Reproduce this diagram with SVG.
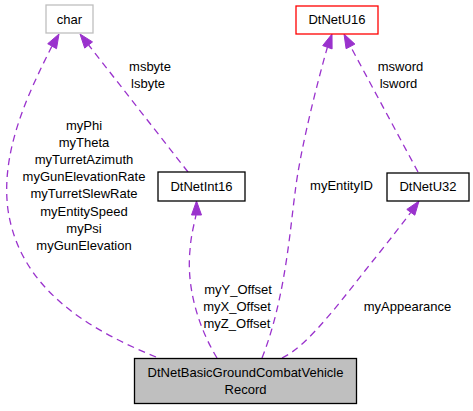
<svg xmlns="http://www.w3.org/2000/svg" width="473" height="411" viewBox="0 0 473 411">
<style>
text{font-family:"Liberation Sans",Arial,sans-serif;font-size:13px;fill:#000}
.n{text-anchor:middle}
.box{fill:#fff;stroke:#000;stroke-width:1.3}
.e{fill:none;stroke:#9a32cd;stroke-width:1.3;stroke-dasharray:7,5}
.ah{fill:#9a32cd;stroke:#9a32cd;stroke-width:1}
</style>
<rect width="473" height="411" fill="#fff"/>
<g id="connectors">
  <path class="e" d="M156,357 C90,330 20,290 8,210 C0,150 30,90 52,46"/>
  <polygon class="ah" points="59,34 47.7,43.7 56.5,48.7"/>
  <path class="e" d="M188,172 L88.6,45"/>
  <polygon class="ah" points="80,34 84.7,48.1 92.5,41.9"/>
  <path class="e" d="M217,358 C200,330 186,290 190,250 C191,235 194,225 196,215"/>
  <polygon class="ah" points="196.5,201 191.5,215 201.5,215"/>
  <path class="e" d="M262,358 C285,300 290,230 295,193 C300,150 318,80 327.4,47.2"/>
  <polygon class="ah" points="332,34 322.7,45.6 332.1,48.9"/>
  <path class="e" d="M418,172 L350.5,46.4"/>
  <polygon class="ah" points="344,34 346.1,48.7 354.9,44.1"/>
  <path class="e" d="M282,358 C310,345 345,295 380,252 C392,237 402,224 410.8,212.3"/>
  <polygon class="ah" points="419,201 406.8,209.4 414.8,215.2"/>
  <g id="edge-labels">
    <text class="n" x="84" y="129.5">myPhi</text>
    <text class="n" x="84" y="146.7">myTheta</text>
    <text class="n" x="84" y="163.9">myTurretAzimuth</text>
    <text class="n" x="84" y="181.1">myGunElevationRate</text>
    <text class="n" x="84" y="198.3">myTurretSlewRate</text>
    <text class="n" x="84" y="215.5">myEntitySpeed</text>
    <text class="n" x="84" y="232.7">myPsi</text>
    <text class="n" x="84" y="249.9">myGunElevation</text>
    <text class="n" x="150" y="71">msbyte</text>
    <text class="n" x="148" y="88">lsbyte</text>
    <text class="n" x="238" y="293.5">myY_Offset</text>
    <text class="n" x="237" y="310.5">myX_Offset</text>
    <text class="n" x="237" y="327.5">myZ_Offset</text>
    <text class="n" x="341.5" y="189.5">myEntityID</text>
    <text class="n" x="400.5" y="71">msword</text>
    <text class="n" x="398.5" y="88">lsword</text>
    <text class="n" x="407.5" y="311">myAppearance</text>
  </g>
</g>
<g id="node-char">
  <rect x="46" y="5" width="47" height="28" fill="#fff" stroke="#bfbfbf" stroke-width="1.3"/>
  <text class="n" x="69.5" y="23.5">char</text>
</g>
<g id="node-DtNetU16">
  <rect x="296" y="6" width="82" height="28" fill="#fff" stroke="#ff0000" stroke-width="1.3"/>
  <text class="n" x="337" y="24">DtNetU16</text>
</g>
<g id="node-DtNetInt16">
  <rect class="box" x="158" y="172" width="87" height="29"/>
  <text class="n" x="201.5" y="191">DtNetInt16</text>
</g>
<g id="node-DtNetU32">
  <rect class="box" x="387" y="173" width="82" height="28"/>
  <text class="n" x="428" y="191">DtNetU32</text>
</g>
<g id="node-main">
  <rect x="134.5" y="358.5" width="222" height="45" fill="#bfbfbf" stroke="#000" stroke-width="1.3"/>
  <text class="n" x="245.5" y="377">DtNetBasicGroundCombatVehicle</text>
  <text class="n" x="245.5" y="393.5">Record</text>
</g>
</svg>
